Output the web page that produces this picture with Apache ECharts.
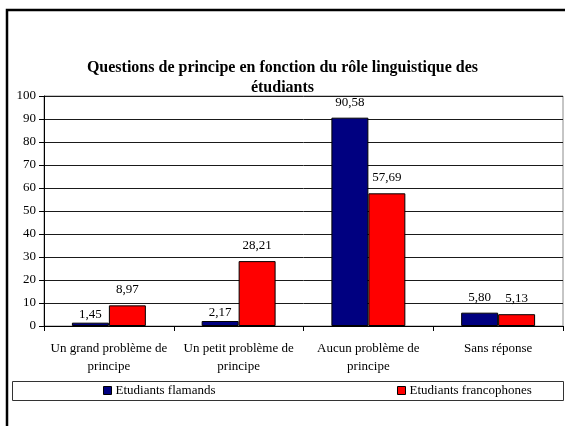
<!DOCTYPE html>
<html>
<head>
<meta charset="utf-8">
<script src="https://cdn.jsdelivr.net/npm/echarts@6/dist/echarts.min.js"></script>
<style>
  html, body { margin: 0; padding: 0; background: #fff; }
  #chart { width: 565px; height: 426px; }
</style>
</head>
<body>
<div id="chart"></div>
<script>
// values
const categories = [
  'Un grand problème de\nprincipe',
  'Un petit problème de\nprincipe',
  'Aucun problème de\nprincipe',
  'Sans réponse'
];
const seriesNames = ['Etudiants flamands', 'Etudiants francophones'];
const flamands = [1.45, 2.17, 90.58, 5.80];
const francophones = [8.97, 28.21, 57.69, 5.13];
const yTicks = { min: 0, max: 100, interval: 10 };

const serif = '"Liberation Serif", "DejaVu Serif", serif';
const fmt = (v) => v.toFixed(2).replace('.', ',');

// small bars get their label closer to the top, like the original
function toData(values) {
  return values.map((v) => v < 5 ? { value: v, label: { distance: 2 } } : v);
}

const chart = echarts.init(document.getElementById('chart'));
chart.setOption({
  animation: false,
  backgroundColor: '#fff',
  title: {
    text: 'Questions de principe en fonction du rôle linguistique des\nétudiants',
    left: 'center', top: 58,
    padding: [0, 0, 0, 9],
    textStyle: { fontFamily: serif, fontWeight: 'bold', fontSize: 16, lineHeight: 20, color: '#000' }
  },
  grid: {
    left: 44, right: 2, top: 96, bottom: 100,
    show: true, borderColor: '#8c8c8c', borderWidth: 1, backgroundColor: '#fff'
  },
  legend: [
    {
      data: [seriesNames[0]], left: 103, top: 384, padding: 0,
      itemWidth: 8, itemHeight: 8, icon: 'rect', itemGap: 5,
      itemStyle: { borderColor: '#000', borderWidth: 1 },
      textStyle: { fontFamily: serif, fontSize: 13, color: '#000', padding: [0, 0, 0, -1] }
    },
    {
      data: [seriesNames[1]], left: 397, top: 384, padding: 0,
      itemWidth: 8, itemHeight: 8, icon: 'rect', itemGap: 5,
      itemStyle: { borderColor: '#000', borderWidth: 1 },
      textStyle: { fontFamily: serif, fontSize: 13, color: '#000', padding: [0, 0, 0, -1] }
    }
  ],
  xAxis: {
    type: 'category',
    data: categories,
    axisLine: { lineStyle: { color: '#000' } },
    axisTick: { show: true, length: 5, lineStyle: { color: '#000' } },
    axisLabel: { fontFamily: serif, fontSize: 13, color: '#000', lineHeight: 18, margin: 14, interval: 0 }
  },
  yAxis: {
    type: 'value',
    min: yTicks.min, max: yTicks.max, interval: yTicks.interval,
    axisLine: { show: true, lineStyle: { color: '#000' } },
    axisTick: { show: true, length: 5, lineStyle: { color: '#000' } },
    axisLabel: { fontFamily: serif, fontSize: 13, color: '#000', margin: 8 },
    splitLine: { lineStyle: { color: '#1a1a1a', width: 1 } }
  },
  series: [
    {
      name: seriesNames[0], type: 'bar', data: toData(flamands),
      barGap: 0, barCategoryGap: '43%',
      itemStyle: { color: '#000080', borderColor: '#000', borderWidth: 1 },
      label: { show: true, position: 'top', distance: 9, fontFamily: serif, fontSize: 13, color: '#000',
               formatter: (p) => fmt(p.value) }
    },
    {
      name: seriesNames[1], type: 'bar', data: toData(francophones),
      barGap: 0, barCategoryGap: '43%',
      itemStyle: { color: '#ff0000', borderColor: '#000', borderWidth: 1 },
      label: { show: true, position: 'top', distance: 9, fontFamily: serif, fontSize: 13, color: '#000',
               formatter: (p) => fmt(p.value) }
    }
  ],
  graphic: [
    { type: 'rect', z: -1, shape: { x: 12.5, y: 381.5, width: 551, height: 19 },
      style: { fill: 'none', stroke: '#333', lineWidth: 1 } },
    { type: 'rect', z: 100, shape: { x: 7, y: 10, width: 620, height: 500 },
      style: { fill: 'none', stroke: '#000', lineWidth: 2.5 } }
  ]
});
</script>
</body>
</html>
